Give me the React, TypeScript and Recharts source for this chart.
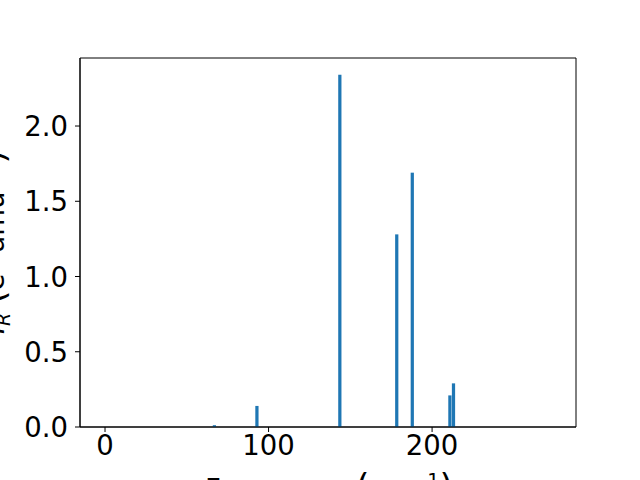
import React from 'react'
import { BarChart, Bar, XAxis, YAxis, ReferenceArea } from 'recharts'

// vibrational modes: frequency (cm^-1) and IR intensity
const frequencies = [67, 93, 143.7, 178.5, 188, 211, 213.2]
const intensities = [0.012, 0.14, 2.34, 1.28, 1.69, 0.21, 0.29]
const xTicks = [0, 100, 200]
const yTicks = [0, 0.5, 1.0, 1.5, 2.0]
const xDomain = [-15.3, 288]
const yDomain = [0, 2.452]

const data = frequencies.map((f, i) => ({ freq: f, ir: intensities[i] }))

const FONT = 'DejaVu Sans'
const FS = 27.5

// eslint-disable-next-line @typescript-eslint/no-explicit-any
const XTick = ({ x, y, payload }: any) => (
  <text x={x} y={y + 19} textAnchor="middle" fontSize={FS} fontFamily={FONT} fill="#000">
    {payload.value}
  </text>
)

// eslint-disable-next-line @typescript-eslint/no-explicit-any
const YTick = ({ x, y, payload }: any) => (
  <text x={x} y={y + 10} textAnchor="end" fontSize={FS} fontFamily={FONT} fill="#000">
    {Number(payload.value).toFixed(1)}
  </text>
)

export default function App() {
  return (
    <div style={{ position: 'absolute', left: 0, top: 0, width: 640, height: 480, background: '#fff' }}>
      <BarChart
        width={640}
        height={480}
        data={data}
        margin={{ top: 58, right: 64, bottom: 0, left: 0 }}
        barSize={4}
      >
        <XAxis
          dataKey="freq"
          type="number"
          domain={xDomain}
          ticks={xTicks}
          tick={<XTick />}
          tickSize={5}
          tickMargin={4}
          height={53}
          stroke="#000"
          allowDataOverflow
        />
        <YAxis
          type="number"
          domain={yDomain}
          ticks={yTicks}
          tick={<YTick />}
          tickSize={5}
          tickMargin={7}
          width={80}
          stroke="#000"
          allowDataOverflow
        />
        <Bar dataKey="ir" fill="#1f77b4" isAnimationActive={false} />
        <ReferenceArea
          x1={xDomain[0]}
          x2={xDomain[1]}
          y1={yDomain[0]}
          y2={yDomain[1]}
          fill="none"
          fillOpacity={0}
          stroke="#000"
          strokeWidth={1}
        />
        <text x={329} y={499} textAnchor="middle" fontSize={FS} fontFamily={FONT} fill="#000">
          Frequency <tspan fontSize={35}>(</tspan>cm
          <tspan dy={-12} fontSize={19}>−1</tspan>
          <tspan dy={12} fontSize={35}>)</tspan>
        </text>
        <text
          transform="translate(4,242) rotate(-90)"
          textAnchor="middle"
          fontSize={FS}
          fontFamily={FONT}
          fill="#000"
        >
          <tspan fontStyle="italic">I</tspan>
          <tspan dy={6} fontSize={19} fontStyle="italic">R</tspan>
          <tspan dy={-6}> </tspan>
          <tspan fontSize={35}>(</tspan>
          <tspan>e</tspan>
          <tspan dy={-11} fontSize={19}>2</tspan>
          <tspan dy={11}> amu</tspan>
          <tspan dy={-11} fontSize={19}>−1</tspan>
          <tspan dy={11} fontSize={35}>)</tspan>
        </text>
      </BarChart>
    </div>
  )
}
